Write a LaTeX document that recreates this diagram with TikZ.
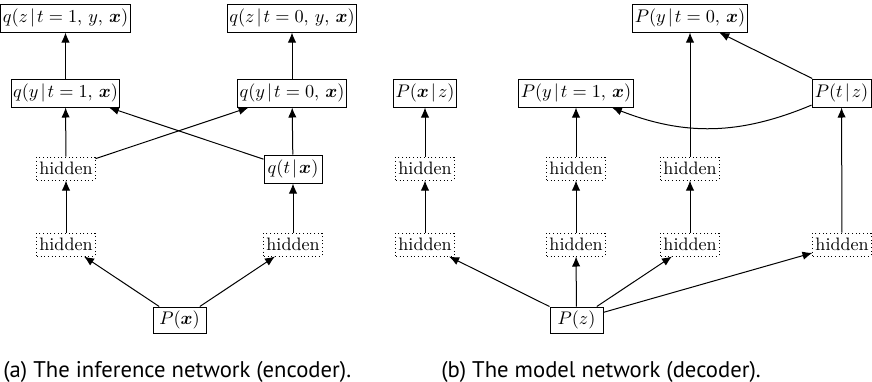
\documentclass[tikz,border=0pt]{standalone}
\usepackage{fontspec}
\usepackage{bm}
\newfontfamily\capfont{PT Sans}
\newcommand{\gv}{\mkern2mu|\mkern2mu}
\usetikzlibrary{arrows.meta,calc}
\begin{document}
\begin{tikzpicture}[x=0.6pt,y=-0.6pt,
  every node/.style={font=\fontsize{10.8}{12}\selectfont},
  pbox/.style={draw, line width=0.6pt, inner xsep=1.2pt, inner ysep=2pt, minimum height=16.8pt},
  hbox/.style={draw, dash pattern=on 0.6pt off 1.6pt, line width=0.6pt, inner sep=1.5pt, minimum height=13.8pt, minimum width=33.6pt},
  arr/.style={line width=0.6pt, -{Latex[length=6pt,width=5pt]}},
  capt/.style={anchor=base west, inner sep=0pt, font=\capfont\fontsize{13.6}{15}\selectfont}]
\useasboundingbox (0,0) rectangle (872,381);
% ---------- (a) inference network ----------
\node[pbox, minimum width=75pt] (qz1) at (65.5,18) {$q(z\gv t=1,\, y,\, \bm{x})$};
\node[pbox, minimum width=72pt] (qz0) at (292,18) {$q(z\gv t=0,\, y,\, \bm{x})$};
\node[pbox, minimum width=61.8pt] (qy1) at (65.5,93) {$q(y\gv t=1,\, \bm{x})$};
\node[pbox, minimum width=61.2pt] (qy0) at (292,93) {$q(y\gv t=0,\, \bm{x})$};
\node[hbox] (ha1) at (66,168.5) {hidden};
\node[pbox, minimum width=34.8pt] (qt) at (293,169) {$q(t\gv\bm{x})$};
\node[hbox] (ha2) at (66,244.5) {hidden};
\node[hbox] (hb2) at (293,244.5) {hidden};
\node[pbox, minimum width=31.8pt, minimum height=15.6pt] (Px) at (179.5,320) {$P(\bm{x})$};
\draw[arr] (qy1) -- (qz1);
\draw[arr] (qy0) -- (qz0);
\draw[arr] (ha1) -- (qy1);
\draw[arr] (qt) -- (qy0);
\draw[arr] (ha2) -- (ha1);
\draw[arr] (hb2) -- (qt);
\draw[arr] (ha1) -- (qy0);
\draw[arr] (qt) -- (qy1);
\draw[arr] (Px) -- (ha2);
\draw[arr] (Px) -- (hb2);
% ---------- (b) model network ----------
\node[pbox, minimum width=37.2pt] (Pxz) at (425,93) {$P(\bm{x}\gv z)$};
\node[pbox, minimum width=63.6pt] (Py1) at (576,93) {$P(y\gv t=1,\, \bm{x})$};
\node[pbox, minimum width=64.8pt] (Py0) at (690,18) {$P(y\gv t=0,\, \bm{x})$};
\node[pbox, minimum width=35.4pt] (Ptz) at (841.5,93) {$P(t\gv z)$};
\node[hbox] (hc1) at (425,168.5) {hidden};
\node[hbox] (hd1) at (576,168.5) {hidden};
\node[hbox] (he1) at (690,168.5) {hidden};
\node[hbox] (hc2) at (425,244.5) {hidden};
\node[hbox] (hd2) at (576,244.5) {hidden};
\node[hbox] (he2) at (690,244.5) {hidden};
\node[hbox] (hf2) at (842,244.5) {hidden};
\node[pbox, minimum width=31.8pt, minimum height=15.6pt] (Pz) at (576.5,320) {$P(z)$};
\draw[arr] (hc1) -- (Pxz);
\draw[arr] (hd1) -- (Py1);
\draw[arr] (he1) -- (Py0);
\draw[arr] (hc2) -- (hc1);
\draw[arr] (hd2) -- (hd1);
\draw[arr] (he2) -- (he1);
\draw[arr] (hf2) -- (Ptz);
\draw[arr] (Ptz) -- (Py0);
\draw[arr] (Ptz) to[bend left=22] (Py1);
\draw[arr] (Pz) -- (hc2);
\draw[arr] (Pz) -- (hd2);
\draw[arr] (Pz) -- (he2);
\draw[arr] (Pz) -- (hf2);
% ---------- captions ----------
\node[capt] (capa) at (3,377) {(a) The inference network (encoder).};
\node[capt] (capb) at (441,377) {(b) The model network (decoder).};
\end{tikzpicture}
\end{document}
